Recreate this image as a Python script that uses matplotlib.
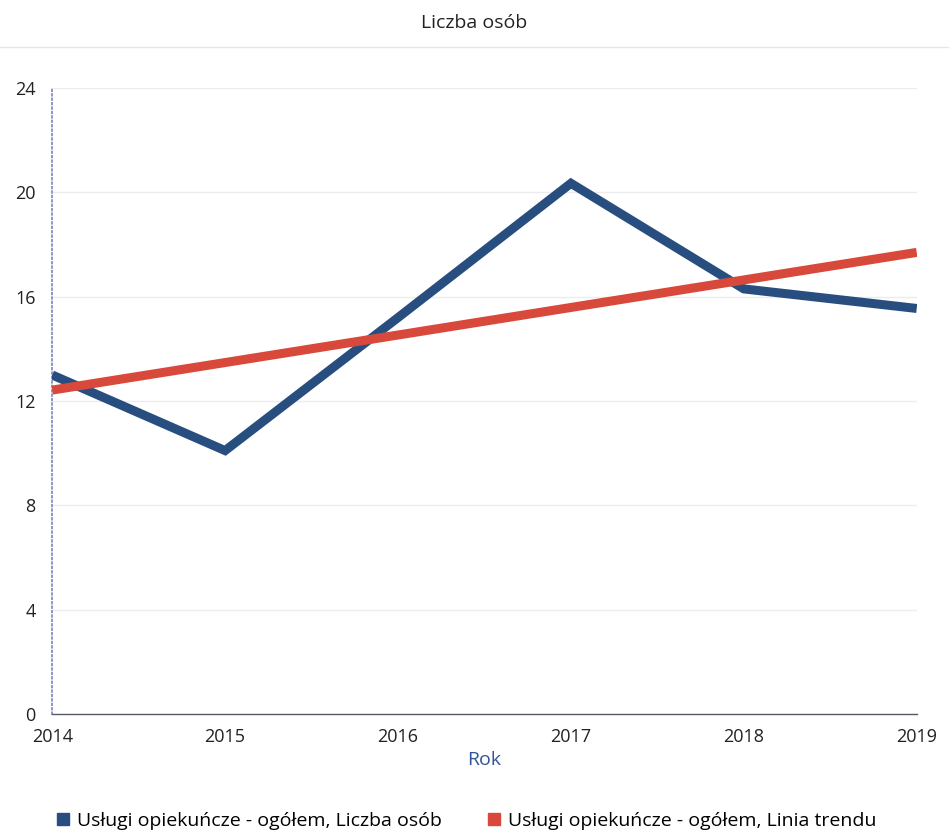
import matplotlib.pyplot as plt
from matplotlib.lines import Line2D

# data
years = [2014, 2015, 2016, 2017, 2018, 2019]
liczba_osob = [13.0, 10.1, 15.2, 20.35, 16.3, 15.55]
trend_start = 12.42
trend_end = 17.7
trend_years = [2014, 2019]
trend_values = [trend_start, trend_end]
y_ticks = [0, 4, 8, 12, 16, 20, 24]

blue = '#284e80'
red = '#d9493b'

plt.rcParams['font.family'] = ['Open Sans', 'DejaVu Sans']

fig = plt.figure(figsize=(9.49, 8.39), dpi=100)
ax = fig.add_axes([0.055, 0.149, 0.911, 0.746])

ax.plot(years, liczba_osob, color=blue, linewidth=6.5, solid_joinstyle='miter',
        solid_capstyle='butt', zorder=3)
ax.plot(trend_years, trend_values, color=red, linewidth=6.5,
        solid_capstyle='butt', zorder=4)

ax.set_xlim(2014, 2019)
ax.set_ylim(0, 24)
ax.set_yticks(y_ticks)
ax.set_xticks(years)
ax.tick_params(axis='both', length=0, labelsize=13, colors='#222222')
ax.tick_params(axis='y', pad=12)
ax.tick_params(axis='x', pad=10)

ax.grid(True, axis='y', color='#ececec', linewidth=1)
ax.set_axisbelow(True)

for side in ['top', 'right']:
    ax.spines[side].set_visible(False)
ax.spines['left'].set_color('#7a86c0')
ax.spines['left'].set_linestyle(':')
ax.spines['left'].set_linewidth(1.2)
ax.spines['bottom'].set_color('#555a66')
ax.spines['bottom'].set_linewidth(1)

ax.set_xlabel('Rok', color='#2f5597', fontsize=14, labelpad=4)
fig.text(0.5, 0.972, 'Liczba osób', ha='center', va='center', fontsize=14,
         color='#222222')
fig.add_artist(Line2D([0.0, 1.0], [0.944, 0.944], color='#e6e6e6',
                      linewidth=1, transform=fig.transFigure))

handles = [
    Line2D([], [], marker='s', linestyle='none', color=blue, markersize=8),
    Line2D([], [], marker='s', linestyle='none', color=red, markersize=8),
]
labels = ['Usługi opiekuńcze - ogółem, Liczba osób',
          'Usługi opiekuńcze - ogółem, Linia trendu']
fig.legend(handles, labels, loc='center', bbox_to_anchor=(0.49, 0.022),
           ncol=2, frameon=False, fontsize=14, handletextpad=0.2,
           columnspacing=2.2, handlelength=1.0)

fig.savefig('out.png', dpi=100, facecolor='white')
